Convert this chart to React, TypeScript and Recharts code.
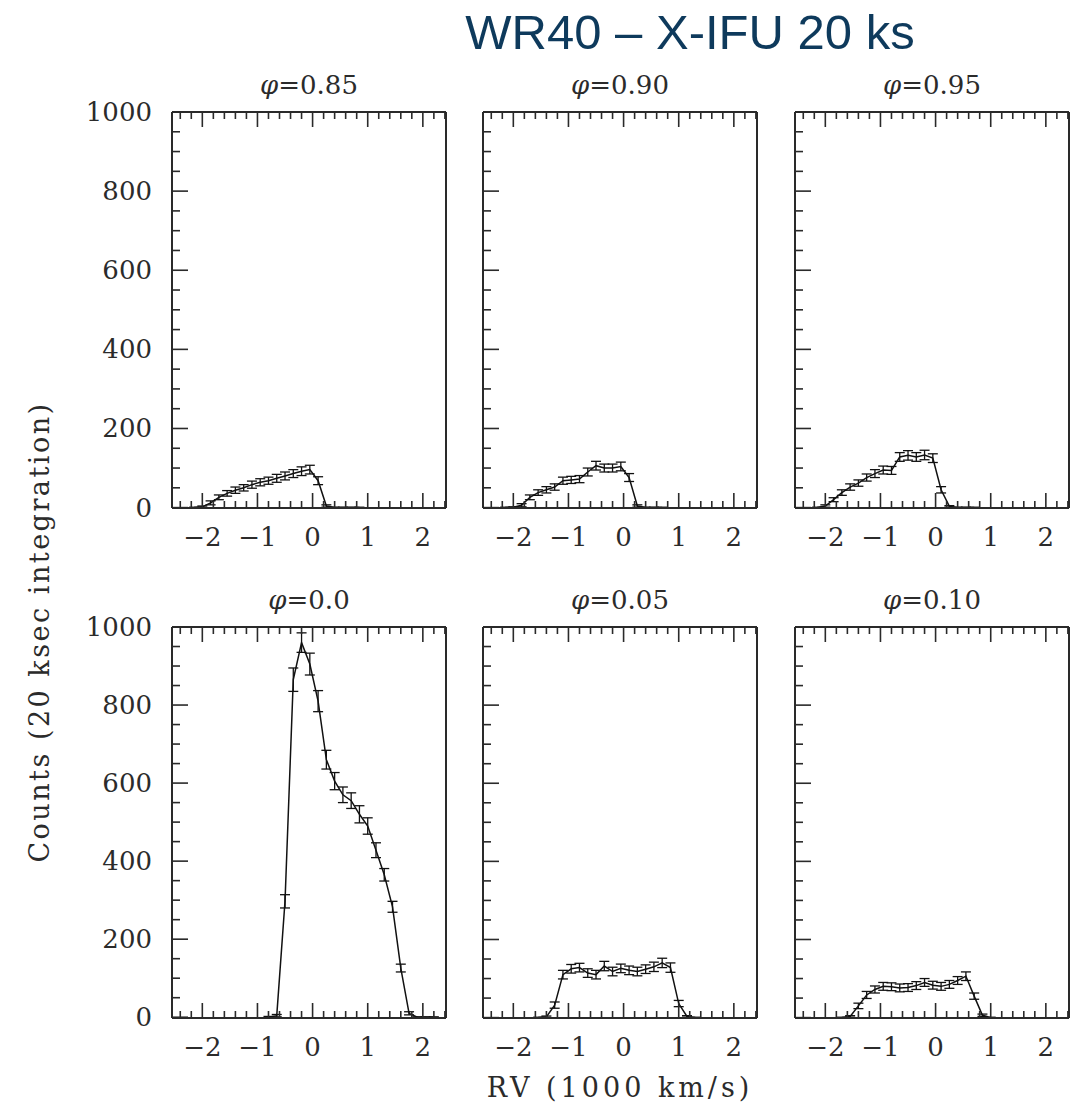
import { LineChart, Line, XAxis, YAxis, ErrorBar } from 'recharts'

// x axis (1000 km/s) and y axis (counts) ticks
const X_DOMAIN = [-2.55, 2.42]
const X_TICKS = [
  -2.4, -2.2, -2, -1.8, -1.6, -1.4, -1.2, -1, -0.8, -0.6, -0.4, -0.2, 0,
  0.2, 0.4, 0.6, 0.8, 1, 1.2, 1.4, 1.6, 1.8, 2, 2.2, 2.4,
]
const X_LABELS = [-2, -1, 0, 1, 2]
const Y_DOMAIN = [0, 1000]
const Y_TICKS = [
  0, 50, 100, 150, 200, 250, 300, 350, 400, 450, 500, 550, 600, 650, 700,
  750, 800, 850, 900, 950, 1000,
]
const Y_LABELS = [0, 200, 400, 600, 800, 1000]

// phi = 0.85
const rv085 = [-2.15, -2.0, -1.85, -1.7, -1.55, -1.4, -1.25, -1.1, -0.95, -0.8, -0.65, -0.5, -0.35, -0.2, -0.05, 0.1, 0.25, 0.4, 0.55, 0.7, 0.85]
const counts085 = [0, 2, 12, 26, 36, 44, 50, 58, 64, 68, 74, 80, 86, 92, 96, 68, 4, 0, 0, 0, 0]
const err085 = [1, 2, 5, 6, 7, 8, 8, 9, 9, 9, 10, 10, 10, 11, 11, 10, 3, 1, 1, 1, 1]

// phi = 0.90
const rv090 = [-2.15, -2.0, -1.85, -1.7, -1.55, -1.4, -1.25, -1.1, -0.95, -0.8, -0.65, -0.5, -0.35, -0.2, -0.05, 0.1, 0.25, 0.4, 0.55, 0.7]
const counts090 = [0, 1, 6, 26, 38, 45, 52, 68, 70, 72, 90, 106, 100, 100, 104, 76, 4, 0, 0, 0]
const err090 = [1, 1, 4, 6, 7, 8, 8, 9, 9, 9, 10, 11, 10, 10, 11, 10, 3, 1, 1, 1]

// phi = 0.95
const rv095 = [-2.15, -2.0, -1.85, -1.7, -1.55, -1.4, -1.25, -1.1, -0.95, -0.8, -0.65, -0.5, -0.35, -0.2, -0.05, 0.1, 0.25, 0.4, 0.55, 0.7]
const counts095 = [0, 4, 20, 38, 52, 62, 76, 86, 95, 94, 128, 132, 128, 133, 125, 45, 3, 0, 0, 0]
const err095 = [1, 3, 5, 7, 8, 8, 9, 10, 10, 10, 11, 12, 11, 12, 11, 8, 2, 1, 1, 1]

// phi = 0.0
const rv000 = [-0.8, -0.65, -0.5, -0.35, -0.2, -0.05, 0.1, 0.25, 0.4, 0.55, 0.7, 0.85, 1.0, 1.15, 1.3, 1.45, 1.6, 1.75, 1.9, 2.05, 2.2]
const counts000 = [0, 4, 297, 865, 960, 905, 810, 660, 605, 570, 555, 520, 490, 428, 365, 283, 126, 10, 0, 0, 0]
const err000 = [2, 3, 17, 30, 25, 28, 27, 24, 22, 20, 20, 22, 21, 19, 16, 14, 10, 4, 1, 1, 1]

// phi = 0.05
const rv005 = [-1.55, -1.4, -1.25, -1.1, -0.95, -0.8, -0.65, -0.5, -0.35, -0.2, -0.05, 0.1, 0.25, 0.4, 0.55, 0.7, 0.85, 1.0, 1.15, 1.3]
const counts005 = [0, 2, 32, 110, 125, 128, 114, 110, 132, 118, 126, 121, 118, 124, 130, 140, 128, 36, 3, 0]
const err005 = [1, 2, 8, 11, 11, 11, 11, 11, 12, 11, 11, 11, 11, 11, 12, 12, 12, 8, 2, 1]

// phi = 0.10
const rv010 = [-1.7, -1.55, -1.4, -1.25, -1.1, -0.95, -0.8, -0.65, -0.5, -0.35, -0.2, -0.05, 0.1, 0.25, 0.4, 0.55, 0.7, 0.85, 1.0]
const counts010 = [0, 3, 30, 58, 72, 80, 79, 76, 77, 82, 90, 83, 80, 85, 95, 106, 55, 6, 0]
const err010 = [1, 2, 7, 9, 9, 10, 10, 10, 10, 10, 10, 10, 10, 10, 10, 11, 8, 3, 1]

const SERIF = '"DejaVu Serif", "Liberation Serif", serif'
const INK = '#2a2a2a'
const TEXT = '#2b2b2b'
const LEFT_W = 110
const TOP_H = 20
const BOTTOM_H = 50
const PLOT_W = 274

const panels = [
  { phase: '0.85', rv: rv085, counts: counts085, err: err085, left: 172, top: 112, h: 396, yLabels: true },
  { phase: '0.90', rv: rv090, counts: counts090, err: err090, left: 483, top: 112, h: 396, yLabels: false },
  { phase: '0.95', rv: rv095, counts: counts095, err: err095, left: 795, top: 112, h: 396, yLabels: false },
  { phase: '0.0', rv: rv000, counts: counts000, err: err000, left: 172, top: 627, h: 391, yLabels: true },
  { phase: '0.05', rv: rv005, counts: counts005, err: err005, left: 483, top: 627, h: 391, yLabels: false },
  { phase: '0.10', rv: rv010, counts: counts010, err: err010, left: 795, top: 627, h: 391, yLabels: false },
]

const fmt = (v: number) => (v < 0 ? `\u2212${Math.abs(v)}` : `${v}`)

// tick marks drawn inside the frame, PGPLOT style
function InTick(props: any) {
  const { x, y, payload, side, labels } = props
  const v = payload.value
  const isX = side === 'bottom' || side === 'top'
  const major = isX
    ? X_LABELS.some((l) => Math.abs(l - v) < 1e-6)
    : Y_LABELS.includes(v)
  const len = major ? (isX ? 15 : 16) : isX ? 7 : 8
  let seg = { x1: x, y1: y, x2: x, y2: y }
  if (side === 'bottom') seg = { x1: x, y1: y, x2: x, y2: y - len }
  if (side === 'top') seg = { x1: x, y1: y, x2: x, y2: y + len }
  if (side === 'left') seg = { x1: x, y1: y, x2: x + len, y2: y }
  if (side === 'right') seg = { x1: x, y1: y, x2: x - len, y2: y }
  return (
    <g>
      <line {...seg} stroke={INK} strokeWidth={1.6} />
      {labels && major && side === 'bottom' && (
        <text x={x} y={y + 38} textAnchor="middle" fontFamily={SERIF} fontSize={26} fill={TEXT}>
          {fmt(v)}
        </text>
      )}
      {labels && major && side === 'left' && (
        <text x={x - 20} y={y + 9} textAnchor="end" fontFamily={SERIF} fontSize={26} fill={TEXT}>
          {fmt(v)}
        </text>
      )}
    </g>
  )
}

const frame = { stroke: INK, strokeWidth: 2 }

function Panel({ p }: { p: (typeof panels)[number] }) {
  const data = p.rv.map((v, i) => ({ rv: v, counts: p.counts[i], err: p.err[i] }))
  return (
    <>
      <div
        style={{
          position: 'absolute',
          left: p.left,
          width: PLOT_W,
          top: p.top - 42,
          lineHeight: '30px',
          textAlign: 'center',
          fontFamily: SERIF,
          fontSize: 26,
          color: TEXT,
        }}
      >
        <i>φ</i>={p.phase}
      </div>
      <div style={{ position: 'absolute', left: p.left - LEFT_W, top: p.top - TOP_H }}>
        <LineChart
          width={LEFT_W + PLOT_W + 1}
          height={TOP_H + p.h + BOTTOM_H}
          data={data}
          margin={{ top: 0, right: 0, bottom: 0, left: 0 }}
        >
          <XAxis
            xAxisId="b"
            dataKey="rv"
            type="number"
            domain={X_DOMAIN}
            ticks={X_TICKS}
            interval={0}
            orientation="bottom"
            height={BOTTOM_H}
            tickSize={0}
            tickMargin={0}
            tickLine={false}
            axisLine={frame}
            tick={(t: any) => <InTick {...t} side="bottom" labels />}
          />
          <XAxis
            xAxisId="t"
            dataKey="rv"
            type="number"
            domain={X_DOMAIN}
            ticks={X_TICKS}
            interval={0}
            orientation="top"
            height={TOP_H}
            tickSize={0}
            tickMargin={0}
            tickLine={false}
            axisLine={frame}
            tick={(t: any) => <InTick {...t} side="top" />}
          />
          <YAxis
            yAxisId="l"
            type="number"
            domain={Y_DOMAIN}
            ticks={Y_TICKS}
            interval={0}
            orientation="left"
            width={LEFT_W}
            tickSize={0}
            tickMargin={0}
            tickLine={false}
            axisLine={frame}
            tick={(t: any) => <InTick {...t} side="left" labels={p.yLabels} />}
          />
          <YAxis
            yAxisId="r"
            type="number"
            domain={Y_DOMAIN}
            ticks={Y_TICKS}
            interval={0}
            orientation="right"
            width={1}
            tickSize={0}
            tickMargin={0}
            tickLine={false}
            axisLine={frame}
            tick={(t: any) => <InTick {...t} side="right" />}
          />
          <Line
            xAxisId="b"
            yAxisId="l"
            type="linear"
            dataKey="counts"
            stroke="#111"
            strokeWidth={1.5}
            dot={false}
            isAnimationActive={false}
          >
            <ErrorBar
              dataKey="err"
              direction="y"
              width={5}
              stroke="#111"
              strokeWidth={1.3}
              isAnimationActive={false}
            />
          </Line>
        </LineChart>
      </div>
    </>
  )
}

export default function App() {
  return (
    <div
      style={{
        position: 'absolute',
        left: 0,
        top: 0,
        width: 1076,
        height: 1112,
        background: '#fff',
        overflow: 'hidden',
      }}
    >
      <div
        style={{
          position: 'absolute',
          left: 390,
          width: 600,
          top: 6,
          lineHeight: '52px',
          textAlign: 'center',
          fontFamily: '"Liberation Sans", Arial, sans-serif',
          fontSize: 49,
          color: '#0e3a5c',
        }}
      >
        WR40 – X-IFU 20 ks
      </div>
      {panels.map((p) => (
        <Panel key={p.phase} p={p} />
      ))}
      <div
        style={{
          position: 'absolute',
          left: 40 - 300,
          top: 632 - 16,
          width: 600,
          lineHeight: '32px',
          textAlign: 'center',
          transform: 'rotate(-90deg)',
          fontFamily: SERIF,
          fontSize: 27,
          letterSpacing: 2.5,
          color: TEXT,
        }}
      >
        Counts (20 ksec integration)
      </div>
      <div
        style={{
          position: 'absolute',
          left: 320,
          top: 1072,
          width: 600,
          lineHeight: '32px',
          textAlign: 'center',
          fontFamily: SERIF,
          fontSize: 27,
          letterSpacing: 4,
          color: TEXT,
        }}
      >
        RV (1000 km/s)
      </div>
    </div>
  )
}
